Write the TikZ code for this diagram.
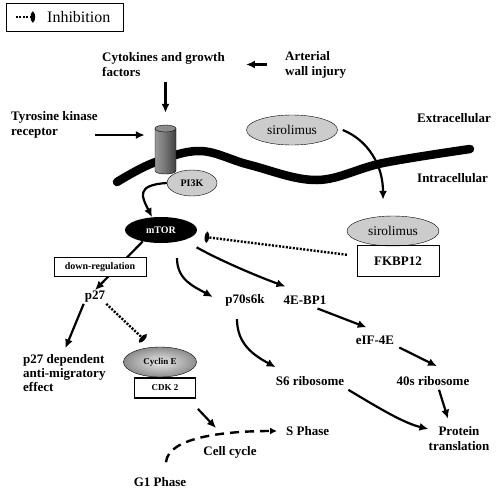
\documentclass[tikz,border=0pt]{standalone}
\usepackage{fontspec}
\setmainfont{Liberation Serif}
\usetikzlibrary{arrows.meta,shapes.geometric}

\begin{document}
\begin{tikzpicture}[x=1pt, y=-1pt,
  lbl/.style={font=\bfseries\fontsize{13}{15}\selectfont, inner sep=1pt},
  small/.style={font=\bfseries\fontsize{10}{12}\selectfont, inner sep=1pt},
  grayell/.style={ellipse, draw, fill=black!20, inner sep=0pt},
  act/.style={-{Latex[length=9pt,width=8pt]}, line width=2.2pt},
  inh/.style={-{Ellipse[length=4.5pt,width=10pt,sep=1.5pt]}, line width=2.4pt, dash pattern=on 2pt off 1.5pt}]
  \useasboundingbox (0,0) rectangle (497,490);

  % legend
  \node[draw, line width=0.8pt, minimum width=117pt, minimum height=28pt] (legend) at (64.5,17) {};
  \node[anchor=west, font=\fontsize{16}{18}\selectfont, inner sep=0pt] (legtxt) at (47,17) {Inhibition};
  \draw[inh] ([shift={(10,0)}]legend.west) -- ([shift={(31,0)}]legend.west);

  % outside the cell
  \node[lbl, align=left, anchor=west] (cyto) at (101,64.5) {Cytokines and growth\\factors};
  \node[lbl, align=left, anchor=west] (art) at (284,64.5) {Arterial\\wall injury};
  \node[lbl, align=left, anchor=west] (tyro) at (10,125) {Tyrosine kinase\\receptor};
  \node[lbl, anchor=west] (extra) at (416,118) {Extracellular};
  \node[lbl, anchor=west] (intra) at (416,178) {Intracellular};

  % membrane
  \draw[line width=8.5pt, line cap=round] plot[smooth, tension=0.6] coordinates
    {(117,182) (153,163) (200,151) (250,165) (317,180) (383,163) (470,149)};

  % receptor
  \node[minimum width=21pt, minimum height=49pt, inner sep=0pt] (rec) at (165.5,149.5) {};
  \shade[draw, left color=black!40, right color=black!75, middle color=black!55]
    (155,128.5) -- (155,170.5) .. controls (155,175.2) and (176,175.2) .. (176,170.5) -- (176,128.5) -- cycle;
  \draw[fill=black!45] (165.5,128.5) ellipse [x radius=10.5, y radius=3.5];

  \node[grayell, small, minimum width=50pt, minimum height=26pt] (pi3k) at (192,183) {PI3K};
  \node[ellipse, fill=black, text=white, small, minimum width=72pt, minimum height=26pt] (mtor) at (161,230) {mTOR};
  \node[grayell, font=\fontsize{13.4}{15}\selectfont, minimum width=91pt, minimum height=30pt] (sir1) at (292,130) {sirolimus};
  \node[grayell, font=\fontsize{13.4}{15}\selectfont, minimum width=92pt, minimum height=30pt] (sir2) at (393,231) {sirolimus};
  \node[draw, lbl, minimum width=82pt, minimum height=31pt] (fkbp) at (398,261) {FKBP12};

  % pathway
  \node[lbl] (p27) at (95,297) {p27};
  \node[align=left, anchor=west, font=\bfseries\fontsize{13}{14}\selectfont, inner sep=1pt] (p27eff) at (22,373)
    {p27 dependent\\anti-migratory\\effect};
  \node[ellipse, draw, inner color=black!8, outer color=black!45, font=\bfseries\fontsize{9}{11}\selectfont,
    minimum width=73pt, minimum height=30pt] (cyce) at (160,362) {Cyclin E};
  \node[draw, line width=1.8pt, font=\bfseries\fontsize{9}{11}\selectfont, minimum width=61pt, minimum height=20pt] (cdk) at (165,388) {CDK 2};
  \node[lbl] (p70) at (245,300) {p70s6k};
  \node[lbl] (ebp) at (305,300) {4E-BP1};
  \node[lbl] (eif) at (375,340) {eIF-4E};
  \node[lbl] (s6) at (310,381) {S6 ribosome};
  \node[lbl] (r40) at (433,381) {40s ribosome};
  \node[lbl, align=center] (prot) at (459,439) {Protein\\translation};
  \node[lbl, anchor=west] (sph) at (285,431) {S Phase};
  \node[lbl] (cyc) at (230,452) {Cell cycle};
  \node[lbl] (g1) at (160,482) {G1 Phase};
  \coordinate (cyctop) at (216,428);

  \draw[act, shorten <=4pt, shorten >=12pt] (cyto.south -| rec.north) -- (rec.north);
  \draw[act, shorten <=17pt, shorten >=20pt] (art.west) -- (art.west -| cyto.east);
  \draw[act] ([shift={(85,10)}]tyro.west) -- ([shift={(-10,-14.5)}]rec.west);
  \draw[act] (pi3k.west) .. controls +(-32,2) and +(-10,-20) .. (mtor.125);
  \draw[act] ([shift={(5,0)}]sir1.east) .. controls +(25,10) and +(0,-35) .. ([shift={(-10,-16)}]sir2.north);
  \draw[inh, shorten <=10pt, shorten >=6pt] ([shift={(0,-5)}]fkbp.west) -- ([shift={(0,6)}]mtor.east);

  \draw[act] (mtor.212) -- (p27.north);
  \node[draw, fill=white, small, minimum width=92pt, minimum height=19pt] (down) at (100,267) {down-regulation};

  \draw[act] (p27.south west) -- ([shift={(1,-5)}]p27eff.north);
  \draw[inh, shorten >=9pt] (p27.south east) -- (cyce.118);
  \draw[act] ([shift={(1.5,10)}]cdk.south east) -- (cyctop);
  \draw[line width=2.4pt, dash pattern=on 9pt off 6pt, -{Latex[length=7pt,width=7pt]}, shorten >=8pt]
    ([shift={(6,-14)}]g1.north) .. controls +(2,-25) and +(-60,0) .. (sph.west);

  \draw[act] ([shift={(16,15)}]mtor.south) .. controls +(0,22) and +(-18,-10) .. ([shift={(-11.5,-3)}]p70.west);
  \draw[act] ([shift={(10,8)}]mtor.south east) .. controls +(25,14) and +(-25,-9) .. ([shift={(3,-8)}]ebp.north west);
  \draw[act] ([shift={(-8,12)}]p70.south) .. controls +(0,25) and +(-22,-12) .. ([shift={(1,-8)}]s6.north west);
  \draw[act] ([shift={(-10,3)}]ebp.south east) -- ([shift={(12,-7)}]eif.north west);
  \draw[act] ([shift={(4,2)}]eif.south east) -- ([shift={(4,-9)}]r40.north);
  \draw[act] ([shift={(6,3)}]r40.south) -- ([shift={(-11,-7)}]prot.north);
  \draw[act] ([shift={(3,3)}]s6.south east) .. controls +(30,18) and +(-25,-6) .. ([shift={(1,-10)}]prot.west);
\end{tikzpicture}
\end{document}
